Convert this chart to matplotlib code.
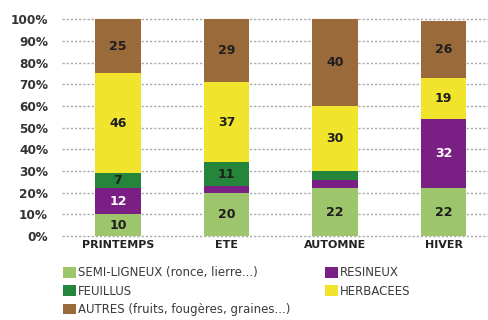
import matplotlib
matplotlib.use("Agg")
import matplotlib.pyplot as plt
import numpy as np

# Seasonal diet composition (percent)
saisons = ["PRINTEMPS", "ETE", "AUTOMNE", "HIVER"]
semi_ligneux = [10, 20, 22, 22]
resineux = [12, 3, 4, 32]
feuillus = [7, 11, 4, 0]
herbacees = [46, 37, 30, 19]
autres = [25, 29, 40, 26]

noms = ["SEMI-LIGNEUX (ronce, lierre...)", "RESINEUX", "FEUILLUS",
        "HERBACEES", "AUTRES (fruits, fougères, graines...)"]
couleurs = ["#9dc66c", "#7a1f84", "#25853a", "#f0e52c", "#9a6a3a"]
couleurs_texte = ["#1e1e1e", "white", "#1e1e1e", "#1e1e1e", "#1e1e1e"]
yticks = [0, 10, 20, 30, 40, 50, 60, 70, 80, 90, 100]

plt.rcParams["font.family"] = ["DejaVu Sans"]

fig = plt.figure(figsize=(4.88, 3.2), dpi=100)
ax = fig.add_axes([0.127, 0.2625, 0.873, 0.6775])

x = np.arange(len(saisons))
series = [semi_ligneux, resineux, feuillus, herbacees, autres]
bottom = np.zeros(len(saisons))
handles = []
for vals, nom, col, tcol in zip(series, noms, couleurs, couleurs_texte):
    vals = np.array(vals, dtype=float)
    bars = ax.bar(x, vals, bottom=bottom, width=0.42, color=col, label=nom,
                  zorder=3, linewidth=0)
    handles.append(bars)
    for xi, v, b in zip(x, vals, bottom):
        if v >= 7:
            ax.text(xi, b + v / 2, f"{int(v)}", ha="center", va="center",
                    fontsize=9, fontweight="bold", color=tcol, zorder=4)
    bottom += vals

ax.set_xlim(-0.516, 3.41)
ax.set_ylim(0, 100)
ax.set_yticks(yticks)
ax.set_yticklabels([f"{t}%" for t in yticks], fontsize=8.7, fontweight="bold",
                   color="#333333")
ax.set_xticks(x)
ax.set_xticklabels(saisons, fontsize=8, fontweight="bold", color="#222222")
ax.tick_params(axis="both", length=0)
ax.tick_params(axis="y", pad=10)
ax.tick_params(axis="x", pad=3)
for s in ax.spines.values():
    s.set_visible(False)
for t in yticks:
    ax.axhline(t, color="#aaaaaa", linestyle=(0, (1.6, 1.4)), linewidth=1.0,
               zorder=1, clip_on=False)

order = [0, 2, 4, 1, 3]
leg = fig.legend([handles[i] for i in order], [noms[i] for i in order],
                 ncol=2, loc="upper left", bbox_to_anchor=(0.118, 0.186),
                 frameon=False, fontsize=8.5, handlelength=1.05,
                 handleheight=1.05, handletextpad=0.15, columnspacing=3.0,
                 labelspacing=0.45, borderpad=0)
for txt in leg.get_texts():
    txt.set_color("#3a3a3a")

fig.savefig("out.png", dpi=100)
